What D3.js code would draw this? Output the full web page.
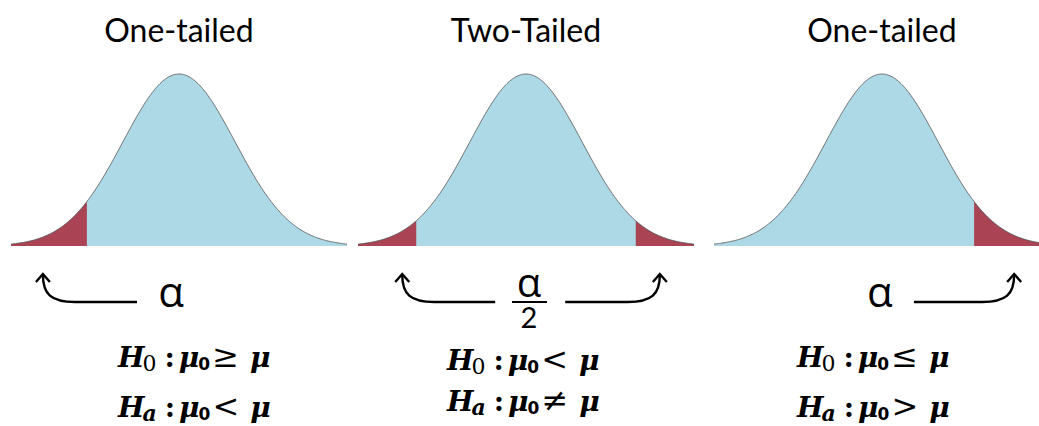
<!DOCTYPE html>
<html>
<head>
<meta charset="utf-8">
<script src="https://cdn.jsdelivr.net/npm/d3@7"></script>
<style>
  body { margin: 0; background: #fff; }
  svg { display: block; }
</style>
</head>
<body>
<div id="chart"></div>
<script>
// ---------- data ----------
var titles = ["One-tailed", "Two-Tailed", "One-tailed"];
// rejection regions in z units for each panel
var tails = [
  [[-3, -1.645]],
  [[-3, -1.96], [1.96, 3]],
  [[1.645, 3]]
];
var alphaLabels = ["α", "α/2", "α"];
// arrow tips in z units (where each arrow points)
var arrowTips = [[-2.43], [-2.21, 2.39], [2.36]];
var h0Rel = ["≥", "<", "≤"];
var haRel = ["<", "≠", ">"];

// ---------- layout ----------
var W = 1039, H = 426;
var panelLeft = [11, 358, 714];
var panelWidth = 336;
var baseY = 246, peakY = 74;
var zDomain = [-3, 3];

var blue = "#add8e6", red = "#aa4353";

var svg = d3.select("#chart").append("svg")
  .attr("width", W).attr("height", H);
svg.append("rect").attr("width", W).attr("height", H).attr("fill", "#fff");

function pdf(z) { return Math.exp(-z * z / 2) / Math.sqrt(2 * Math.PI); }

var y = d3.scaleLinear().domain([0, pdf(0)]).range([baseY, peakY]);

panelLeft.forEach(function(left, i) {
  var x = d3.scaleLinear().domain(zDomain).range([left, left + panelWidth]);
  var g = svg.append("g").attr("class", "panel");
  var cx = x(0);

  var area = d3.area()
    .x(function(z) { return x(z); })
    .y0(baseY)
    .y1(function(z) { return y(pdf(z)); });
  var line = d3.line()
    .x(function(z) { return x(z); })
    .y(function(z) { return y(pdf(z)); });

  var zs = d3.range(zDomain[0], zDomain[1] + 0.0001, 0.02);

  g.append("path").attr("d", area(zs)).attr("fill", blue);

  tails[i].forEach(function(t) {
    var tz = d3.range(t[0], t[1] + 0.0001, 0.01);
    if (tz[tz.length - 1] < t[1]) tz.push(t[1]);
    g.append("path").attr("d", area(tz)).attr("fill", red);
  });

  g.append("path").attr("d", line(zs))
    .attr("fill", "none").attr("stroke", "#555").attr("stroke-width", 0.8);

  // title
  g.append("text")
    .attr("x", cx).attr("y", 42)
    .attr("text-anchor", "middle")
    .style("font-family", "Lato, 'Open Sans', sans-serif")
    .style("font-size", "32px")
    .attr("fill", "#000")
    .text(titles[i]);

  // alpha label + arrows
  var arrowY = 302, tipY = 274;
  var labelFont = "'Open Sans', 'Noto Sans', sans-serif";
  if (alphaLabels[i] === "α/2") {
    g.append("text").attr("x", cx + 3).attr("y", 297).attr("text-anchor", "middle")
      .style("font-family", labelFont).style("font-size", "40px").text("α");
    g.append("line").attr("x1", cx - 14).attr("x2", cx + 21)
      .attr("y1", arrowY).attr("y2", arrowY).attr("stroke", "#000").attr("stroke-width", 2);
    g.append("text").attr("x", cx + 3).attr("y", 328).attr("text-anchor", "middle")
      .style("font-family", "Lato, sans-serif").style("font-size", "29px").text("2");
  } else {
    var ax = i === 0 ? x(-0.14) : x(-0.04);
    g.append("text").attr("x", ax).attr("y", 307).attr("text-anchor", "middle")
      .style("font-family", labelFont).style("font-size", "42px").text("α");
  }

  arrowTips[i].forEach(function(tz) {
    var tip = x(tz);
    var dir = tz < 0 ? -1 : 1;
    var start;
    if (i === 0) start = x(-0.75);
    else if (i === 1) start = dir < 0 ? x(-0.55) : x(0.7);
    else start = x(0.57);
    var p = d3.path();
    p.moveTo(start, arrowY);
    p.lineTo(tip - dir * 32, arrowY);
    p.bezierCurveTo(tip - dir * 8, arrowY, tip, arrowY - 8, tip, tipY + 1);
    g.append("path").attr("d", p.toString())
      .attr("fill", "none").attr("stroke", "#000").attr("stroke-width", 2.4);
    var h = d3.path();
    h.moveTo(tip - 7, tipY + 8);
    h.lineTo(tip, tipY);
    h.lineTo(tip + 7, tipY + 8);
    g.append("path").attr("d", h.toString())
      .attr("fill", "none").attr("stroke", "#000").attr("stroke-width", 2.4)
      .attr("stroke-linejoin", "miter");
  });

  // hypotheses
  var eqStart = [-61, -79, -85][i];
  var rows = [
    { sub: "0", rel: h0Rel[i], y: i === 1 ? 370 : 367, subItalic: false },
    { sub: "a", rel: haRel[i], y: i === 1 ? 411 : 417, subItalic: true }
  ];
  rows.forEach(function(r) {
    var t = g.append("text")
      .attr("x", cx + eqStart).attr("y", r.y)
      .style("font-family", "'DejaVu Serif', serif")
      .style("font-size", "28px")
      .attr("fill", "#000");
    t.append("tspan").style("font-weight", "bold").style("font-style", "italic").text("H");
    t.append("tspan").attr("dy", 4).attr("dx", -2).style("font-size", "22px")
      .style("font-weight", r.subItalic ? "bold" : "normal")
      .style("font-style", r.subItalic ? "italic" : "normal")
      .text(r.sub);
    t.append("tspan").attr("dy", -4).attr("dx", 8).style("font-weight", "bold").text(":");
    t.append("tspan").attr("dx", 4).style("font-weight", "bold").style("font-style", "italic").text("μ");
    t.append("tspan").attr("dy", 3).attr("dx", -1).style("font-family", "'DejaVu Sans', sans-serif")
      .style("font-size", "17px").style("font-weight", "bold").text("0");
    t.append("tspan").attr("dy", -3).attr("dx", 2).style("font-size", "32px").text(r.rel);
    t.append("tspan").attr("dx", 11).style("font-weight", "bold").style("font-style", "italic").text("μ");
  });
});
</script>
</body>
</html>
